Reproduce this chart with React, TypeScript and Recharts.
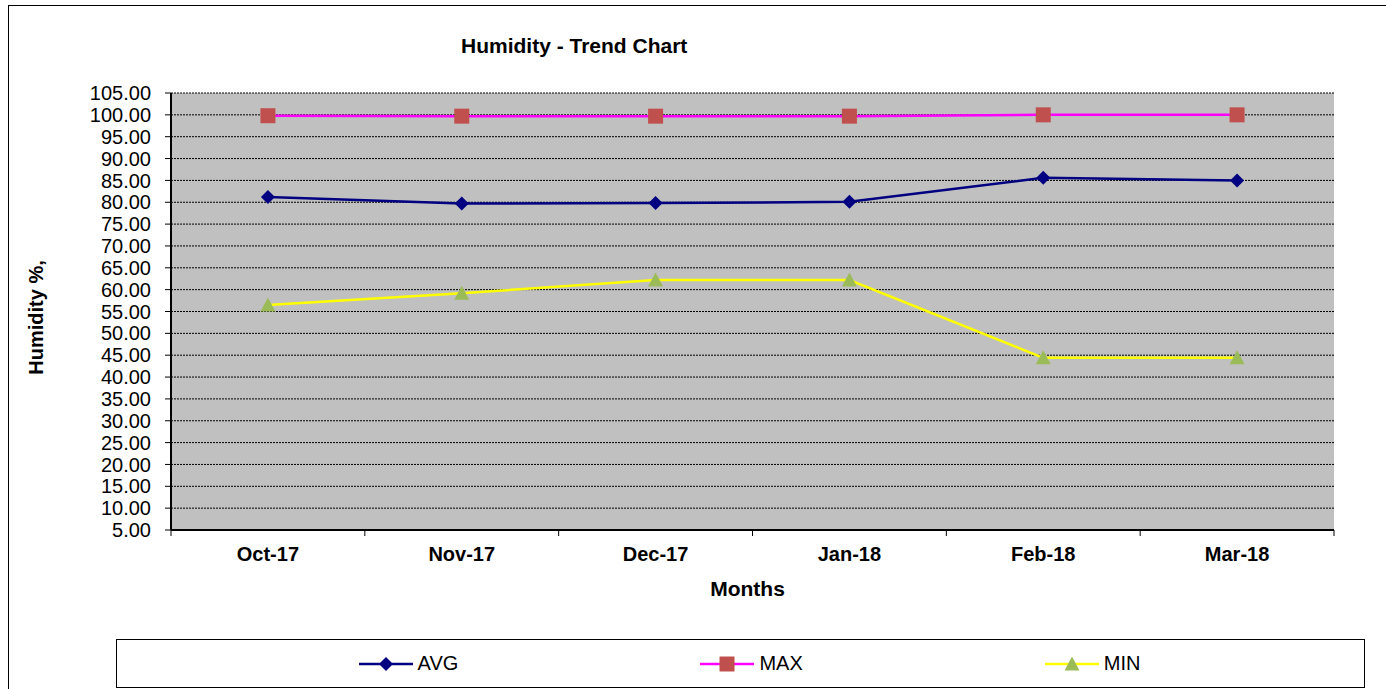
import { LineChart, Line, XAxis, YAxis, CartesianGrid, Label } from "recharts"

const months = ["Oct-17", "Nov-17", "Dec-17", "Jan-18", "Feb-18", "Mar-18"]
const avgValues = [81.2, 79.7, 79.8, 80.1, 85.6, 85.0]
const maxValues = [99.8, 99.7, 99.7, 99.7, 100.0, 100.0]
const minValues = [56.5, 59.2, 62.2, 62.2, 44.4, 44.4]
const yTicks = [5, 10, 15, 20, 25, 30, 35, 40, 45, 50, 55, 60, 65, 70, 75, 80, 85, 90, 95, 100, 105]

const data = months.map((month, i) => ({
  month,
  avg: avgValues[i],
  max: maxValues[i],
  min: minValues[i],
}))

const W = 1386
const H = 689
const M = { top: 93, right: 52, bottom: 91, left: 0 }
const Y_AXIS_W = 171
const X_AXIS_H = 68
const BAND = (W - M.left - M.right - Y_AXIS_W) / months.length
const FONT = "'Liberation Sans', Arial, sans-serif"

const AVG_COLOR = "#000080"
const MAX_COLOR = "#FF00FF"
const MIN_COLOR = "#FFFF00"
const SQUARE_COLOR = "#C0504D"
const TRIANGLE_COLOR = "#9BBB59"

function Diamond({ cx, cy }: { cx: number; cy: number }) {
  const r = 7
  return <polygon points={`${cx},${cy - r} ${cx + r},${cy} ${cx},${cy + r} ${cx - r},${cy}`} fill={AVG_COLOR} />
}

function Square({ cx, cy }: { cx: number; cy: number }) {
  const r = 7.5
  return <rect x={cx - r} y={cy - r} width={r * 2} height={r * 2} fill={SQUARE_COLOR} />
}

function Triangle({ cx, cy }: { cx: number; cy: number }) {
  const r = 7.5
  return <polygon points={`${cx},${cy - r} ${cx + r},${cy + r - 1} ${cx - r},${cy + r - 1}`} fill={TRIANGLE_COLOR} />
}

// ticks sit on the band edges, labels in the middle
function MonthTick(props: any) {
  const { x, y, payload, index } = props
  const axisY = y - 8
  const last = index === months.length - 1
  return (
    <g>
      <line x1={x - BAND / 2} y1={axisY} x2={x - BAND / 2} y2={axisY + 6} stroke="#000" />
      {last && <line x1={x + BAND / 2} y1={axisY} x2={x + BAND / 2} y2={axisY + 6} stroke="#000" />}
      <text x={x} y={axisY + 17} dy="0.71em" textAnchor="middle" fontFamily={FONT} fontSize={20} fontWeight="bold" fill="#000">
        {payload.value}
      </text>
    </g>
  )
}

function LegendItem({ label, color, marker }: { label: string; color: string; marker: "diamond" | "square" | "triangle" }) {
  return (
    <div style={{ display: "flex", alignItems: "center" }}>
      <svg width={54} height={16}>
        <line x1={0} y1={8} x2={54} y2={8} stroke={color} strokeWidth={2.5} />
        {marker === "diamond" && <Diamond cx={27} cy={8} />}
        {marker === "square" && <Square cx={27} cy={8} />}
        {marker === "triangle" && <Triangle cx={27} cy={8} />}
      </svg>
      <span style={{ marginLeft: 5, fontSize: 20 }}>{label}</span>
    </div>
  )
}

export default function App() {
  return (
    <div style={{ position: "fixed", left: 0, top: 0, width: W, height: H, overflow: "hidden", fontFamily: FONT, background: "#fff" }}>
      <div style={{ position: "absolute", left: 8, top: 5, width: 1400, height: 700, borderLeft: "1px solid #000", borderTop: "1px solid #000" }} />
      <div style={{ position: "absolute", left: 0, top: 0 }}>
        <LineChart width={W} height={H} data={data} margin={M}>
          <CartesianGrid
            horizontal
            vertical={false}
            fill="#C0C0C0"
            fillOpacity={1}
            stroke="#000"
            strokeDasharray="2 1"
          />
          <XAxis
            dataKey="month"
            scale="band"
            height={X_AXIS_H}
            axisLine={{ stroke: "#000", strokeWidth: 2 }}
            tickLine={false}
            tick={<MonthTick />}
            interval={0}
          >
            <Label value="Months" position="insideBottom" offset={2} dx={-5} fontFamily={FONT} fontSize={21} fontWeight="bold" fill="#000" />
          </XAxis>
          <XAxis
            xAxisId="top"
            orientation="top"
            dataKey="month"
            scale="band"
            height={0}
            tick={false}
            tickLine={false}
            axisLine={{ stroke: "#808080", strokeWidth: 3 }}
          />
          <YAxis
            domain={[5, 105]}
            ticks={yTicks}
            interval={0}
            width={Y_AXIS_W}
            tickFormatter={(v: number) => v.toFixed(2)}
            tick={{ fontFamily: FONT, fontSize: 20, fill: "#000" }}
            tickSize={6}
            tickMargin={14}
            tickLine={{ stroke: "#000" }}
            axisLine={{ stroke: "#000", strokeWidth: 2 }}
          >
            <Label
              content={(p: any) => {
                const vb = p.viewBox
                const cx = 36
                const cy = vb.y + vb.height / 2 + 6
                return (
                  <text
                    x={cx}
                    y={cy}
                    transform={`rotate(-90 ${cx} ${cy})`}
                    textAnchor="middle"
                    dominantBaseline="central"
                    fontFamily={FONT}
                    fontSize={20}
                    fontWeight="bold"
                    fill="#000"
                  >
                    Humidity %,
                  </text>
                )
              }}
            />
          </YAxis>
          <YAxis
            yAxisId="right"
            orientation="right"
            domain={[5, 105]}
            width={0}
            tick={false}
            tickLine={false}
            axisLine={{ stroke: "#808080", strokeWidth: 3 }}
          />
          <Line
            dataKey="max"
            stroke={MAX_COLOR}
            strokeWidth={2.5}
            isAnimationActive={false}
            dot={(p: any) => <Square key={`max-${p.index}`} cx={p.cx} cy={p.cy} />}
            activeDot={false}
          />
          <Line
            dataKey="min"
            stroke={MIN_COLOR}
            strokeWidth={2.5}
            isAnimationActive={false}
            dot={(p: any) => <Triangle key={`min-${p.index}`} cx={p.cx} cy={p.cy} />}
            activeDot={false}
          />
          <Line
            dataKey="avg"
            stroke={AVG_COLOR}
            strokeWidth={2.5}
            isAnimationActive={false}
            dot={(p: any) => <Diamond key={`avg-${p.index}`} cx={p.cx} cy={p.cy} />}
            activeDot={false}
          />
        </LineChart>
      </div>
      <div
        style={{
          position: "absolute",
          left: 461,
          top: 34,
          fontSize: 21,
          fontWeight: "bold",
          whiteSpace: "nowrap",
          lineHeight: "24px",
        }}
      >
        Humidity - Trend Chart
      </div>
      <div
        style={{
          position: "absolute",
          left: 116,
          top: 639,
          width: 1249,
          height: 49,
          border: "1px solid #000",
          display: "flex",
          alignItems: "center",
          justifyContent: "center",
          gap: 242,
          boxSizing: "border-box",
          paddingLeft: 18,
        }}
      >
        <LegendItem label="AVG" color={AVG_COLOR} marker="diamond" />
        <LegendItem label="MAX" color={MAX_COLOR} marker="square" />
        <LegendItem label="MIN" color={MIN_COLOR} marker="triangle" />
      </div>
    </div>
  )
}
